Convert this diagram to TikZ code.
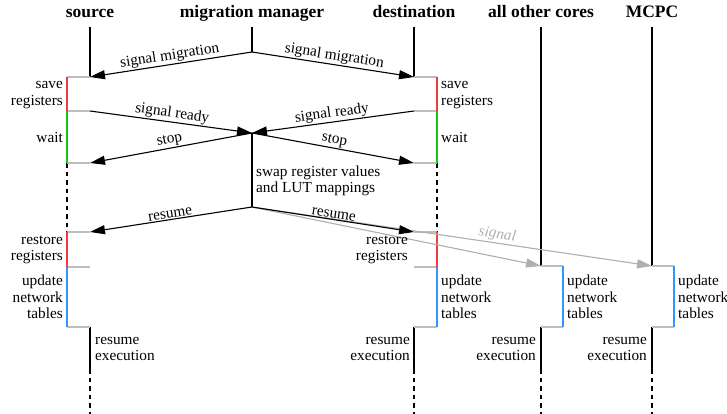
\documentclass[tikz,border=0pt]{standalone}
\usepackage{fontspec}
\setmainfont{Liberation Serif}
\usetikzlibrary{arrows.meta,positioning}

\begin{document}
\begin{tikzpicture}[x=1pt, y=-1pt,
    head/.style={font=\fontsize{17.5}{20}\selectfont\bfseries, anchor=base, inner sep=0pt},
    lbl/.style={font=\fontsize{15.3}{16.5}\selectfont, inner sep=1pt},
    note/.style={lbl, align=left, anchor=west},
    noter/.style={lbl, align=right, anchor=east},
    life/.style={line width=2.8pt},
    lifedash/.style={line width=2.8pt, dash pattern=on 4.5pt off 4pt},
    msg/.style={-{Triangle[length=15pt,width=9pt]}, line width=1.1pt},
    gmsg/.style={-{Triangle[length=15pt,width=9pt]}, draw=sigcol, fill=sigcol, line width=1.1pt},
    tick/.style={draw=tickcol, line width=1.3pt},
    savebar/.style={draw=barred, line width=2.4pt},
    waitbar/.style={draw=bargreen, line width=2.4pt},
    netbar/.style={draw=barblue, line width=2.4pt}
]
    \definecolor{barred}{RGB}{240,60,60}
    \definecolor{bargreen}{RGB}{20,200,20}
    \definecolor{barblue}{RGB}{50,150,255}
    \definecolor{tickcol}{RGB}{190,190,190}
    \definecolor{sigcol}{RGB}{175,175,175}
    \useasboundingbox (0,0) rectangle (727,414);

    % Cabecalhos
    \node[head] (hsrc) at (90,18) {source};
    \node[head] (hmm) at (252,18) {migration manager};
    \node[head] (hdst) at (414,18) {destination};
    \node[head] (hoth) at (541,18) {all other cores};
    \node[head] (hmcpc) at (652,18) {MCPC};

    % Pontos: source
    \coordinate (s0) at (90,27);  \coordinate (s1) at (90,77);
    \coordinate (s2) at (90,111); \coordinate (s3) at (90,163);
    \coordinate (s4) at (90,232); \coordinate (s5) at (90,267);
    \coordinate (s6) at (90,327); \coordinate (s7) at (90,372);
    \coordinate (s8) at (90,414);
    \coordinate (sb1) at (67,77);  \coordinate (sb2) at (67,111);
    \coordinate (sb3) at (67,163); \coordinate (sb4) at (67,232);
    \coordinate (sb5) at (67,267); \coordinate (sb6) at (67,327);
    % Pontos: migration manager
    \coordinate (m0) at (252,27);  \coordinate (m1) at (252,52);
    \coordinate (m2) at (252,133); \coordinate (m3) at (252,207);
    % Pontos: destination
    \coordinate (d0) at (414,27);  \coordinate (d1) at (414,77);
    \coordinate (d2) at (414,111); \coordinate (d3) at (414,163);
    \coordinate (d4) at (414,232); \coordinate (d5) at (414,267);
    \coordinate (d6) at (414,327); \coordinate (d7) at (414,372);
    \coordinate (d8) at (414,414);
    \coordinate (db1) at (437,77);  \coordinate (db2) at (437,111);
    \coordinate (db3) at (437,163); \coordinate (db4) at (437,232);
    \coordinate (db5) at (437,267); \coordinate (db6) at (437,327);
    % Pontos: all other cores e MCPC
    \coordinate (o0) at (541,27);  \coordinate (o1) at (541,266);
    \coordinate (o2) at (541,327); \coordinate (o3) at (541,372);
    \coordinate (o4) at (541,414);
    \coordinate (ob1) at (563,266); \coordinate (ob2) at (563,327);
    \coordinate (c0) at (652,27);  \coordinate (c1) at (652,266);
    \coordinate (c2) at (652,327); \coordinate (c3) at (652,372);
    \coordinate (c4) at (652,414);
    \coordinate (cb1) at (674,266); \coordinate (cb2) at (674,327);

    % Linhas de vida
    \draw[life] (s0) -- (s1);
    \draw[life] (m0) -- (m1);
    \draw[life] (m2) -- (m3);
    \draw[life] (d0) -- (d1);
    \draw[life] (o0) -- (o1);
    \draw[life] (c0) -- (c1);
    \draw[life] (s6) -- (s7);
    \draw[life] (d6) -- (d7);
    \draw[life] (o2) -- (o3);
    \draw[life] (c2) -- (c3);
    \draw[lifedash] ([yshift=3pt]s7) -- (s8);
    \draw[lifedash] ([yshift=3pt]d7) -- (d8);
    \draw[lifedash] ([yshift=3pt]o3) -- (o4);
    \draw[lifedash] ([yshift=3pt]c3) -- (c4);
    \draw[lifedash] (sb3) -- (sb4);
    \draw[lifedash] (db3) -- (db4);

    % Marcas cinzentas
    \draw[tick] (s1) -- (sb1);  \draw[tick] (s2) -- (sb2);
    \draw[tick] (s3) -- (sb3);  \draw[tick] (s4) -- (sb4);
    \draw[tick] (s5) -- (sb5);  \draw[tick] (s6) -- (sb6);
    \draw[tick] (d1) -- (db1);  \draw[tick] (d2) -- (db2);
    \draw[tick] (d3) -- (db3);  \draw[tick] (d4) -- (db4);
    \draw[tick] (d5) -- (db5);  \draw[tick] (d6) -- (db6);
    \draw[tick] (o1) -- (ob1);  \draw[tick] (o2) -- (ob2);
    \draw[tick] (c1) -- (cb1);  \draw[tick] (c2) -- (cb2);

    % Barras de estado
    \draw[savebar] (sb1) -- (sb2);
    \draw[waitbar] (sb2) -- (sb3);
    \draw[savebar] (sb4) -- (sb5);
    \draw[netbar] (sb5) -- (sb6);
    \draw[savebar] (db1) -- (db2);
    \draw[waitbar] (db2) -- (db3);
    \draw[savebar] (db4) -- (db5);
    \draw[netbar] (db5) -- (db6);
    \draw[netbar] (ob1) -- (ob2);
    \draw[netbar] (cb1) -- (cb2);

    % Mensagens
    \draw[msg] (m1) -- node[lbl, midway, above, sloped] {signal migration} (s1);
    \draw[msg] (m1) -- node[lbl, midway, above, sloped] {signal migration} (d1);
    \draw[msg] (s2) -- node[lbl, midway, above, sloped] {signal ready} (m2);
    \draw[msg] (d2) -- node[lbl, midway, above, sloped] {signal ready} (m2);
    \draw[msg] (m2) -- node[lbl, midway, above, sloped] {stop} (s3);
    \draw[msg] (m2) -- node[lbl, midway, above, sloped] {stop} (d3);
    \draw[gmsg] (m3) -- (o1);
    \draw[gmsg] (m3) -- node[lbl, pos=0.61, above, sloped, text=sigcol, font=\fontsize{15.3}{16.5}\selectfont\itshape] {signal} (c1);
    \draw[msg] (m3) -- node[lbl, midway, above, sloped] {resume} (s4);
    \draw[msg] (m3) -- node[lbl, midway, above, sloped] {resume} (d4);

    % Rotulos
    \node[noter] (lsave1) at (64,95) {save\\registers};
    \node[noter] (lwait1) at (64,138) {wait};
    \node[noter] (lrest1) at (64,250) {restore\\registers};
    \node[noter] (lnet1) at (64,297) {update\\network\\tables};
    \node[note] (lres1) at (94,349) {resume\\execution};
    \node[note] (lswap) at (255,181) {swap register values\\and LUT mappings};
    \node[note] (lsave2) at (440,95) {save\\registers};
    \node[note] (lwait2) at (440,138) {wait};
    \node[noter] (lrest2) at (409,250) {restore\\registers};
    \node[note] (lnet2) at (440,297) {update\\network\\tables};
    \node[noter] (lres2) at (411,349) {resume\\execution};
    \node[note] (lnet3) at (566,297) {update\\network\\tables};
    \node[noter] (lres3) at (537,349) {resume\\execution};
    \node[note] (lnet4) at (677,297) {update\\network\\tables};
    \node[noter] (lres4) at (648,349) {resume\\execution};
\end{tikzpicture}
\end{document}
